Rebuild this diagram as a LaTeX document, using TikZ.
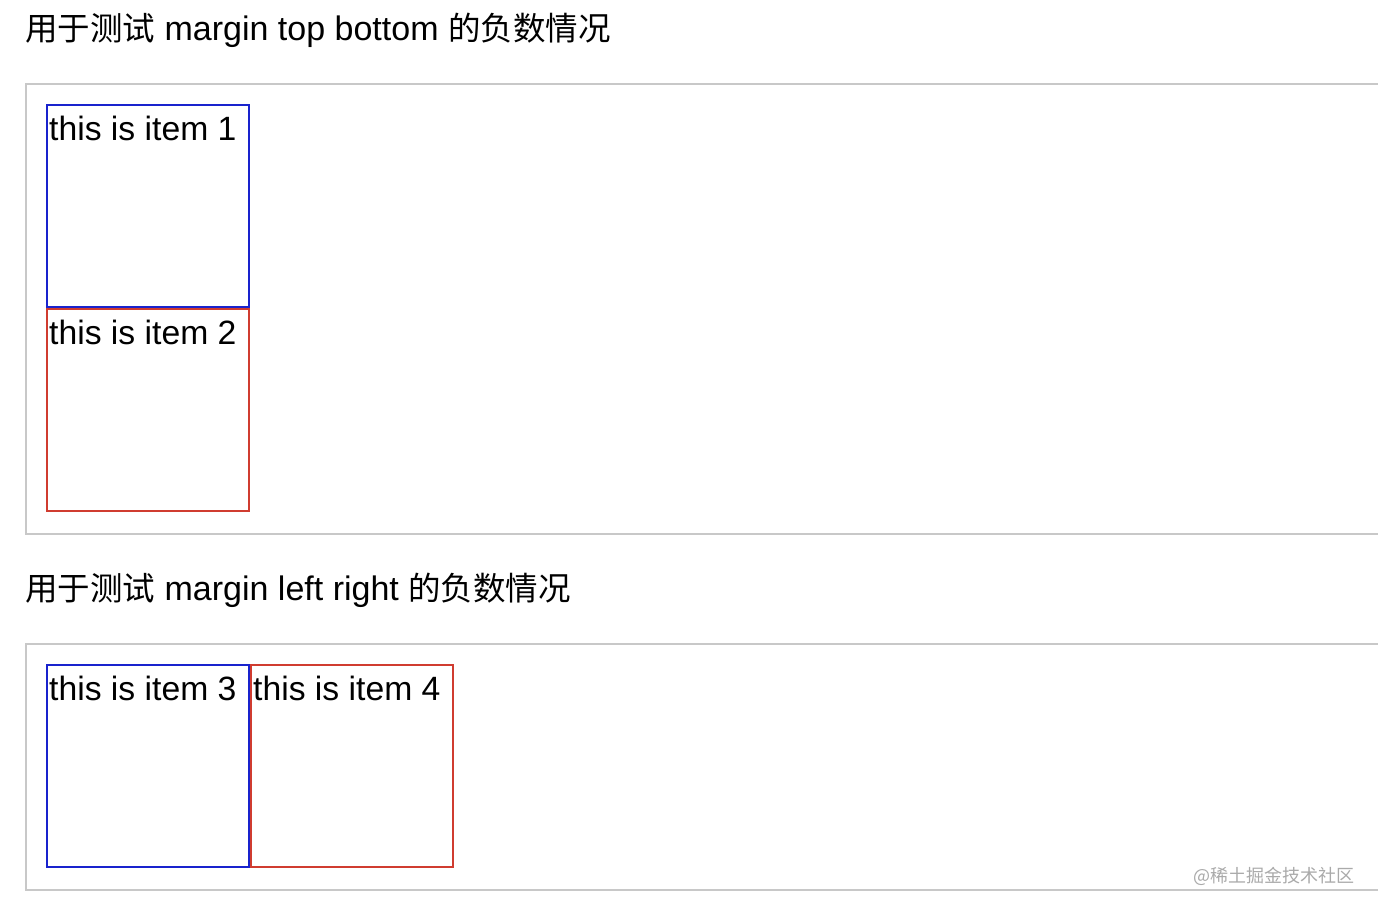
\documentclass[tikz,border=0pt]{standalone}
\usepackage{fontspec}
\setmainfont{Liberation Sans}
\newfontfamily\cjk{Noto Sans CJK SC}
\definecolor{itemblue}{RGB}{25,35,205}
\definecolor{itemred}{RGB}{208,60,48}
\definecolor{boxgray}{RGB}{200,200,200}
\definecolor{markgray}{RGB}{170,170,170}
\newcommand{\cj}[1]{{\fontsize{32.5}{38}\selectfont\cjk #1}}
\begin{document}
\begin{tikzpicture}[x=1pt,y=-1pt,
  container/.style={draw=boxgray,line width=2pt,rectangle,inner sep=0pt,anchor=north west},
  bluebox/.style={draw=itemblue,line width=2pt,rectangle,inner sep=0pt,minimum width=202pt,minimum height=202pt},
  redbox/.style={draw=itemred,line width=2pt,rectangle,inner sep=0pt,minimum width=202pt,minimum height=202pt},
  itemtext/.style={anchor=base west,inner sep=0pt,font=\fontsize{33.7}{40}\selectfont},
  title/.style={anchor=base west,inner sep=0pt,font=\fontsize{34}{40}\selectfont}]
\useasboundingbox (0,0) rectangle (1378,910);
\clip (0,0) rectangle (1378,910);
\fill[white] (0,0) rectangle (1378,910);
% titles
\node[title] (title1) at (25,40) {\cj{用于测试} margin top bottom \cj{的负数情况}};
\node[title] (title2) at (25,600) {\cj{用于测试} margin left right \cj{的负数情况}};
% containers
\node[container,minimum width=1400pt,minimum height=450pt] (c1) at (25,83) {};
\node[container,minimum width=1400pt,minimum height=246pt] (c2) at (25,643) {};
% items
\node[bluebox] (i1) at (148,206) {};
\node[redbox] (i2) at (148,410) {};
\node[bluebox] (i3) at (148,766) {};
\node[redbox] (i4) at (352,766) {};
\node[itemtext] (t1) at (49,140.5) {this is item 1};
\node[itemtext] (t2) at (49,344.5) {this is item 2};
\node[itemtext] (t3) at (49,700.5) {this is item 3};
\node[itemtext] (t4) at (253,700.5) {this is item 4};
% watermark
\node[anchor=base west,inner sep=0pt,text=markgray,font=\fontsize{18}{22}\selectfont\cjk] (wm) at (1193,882) {@稀土掘金技术社区};
\end{tikzpicture}
\end{document}
